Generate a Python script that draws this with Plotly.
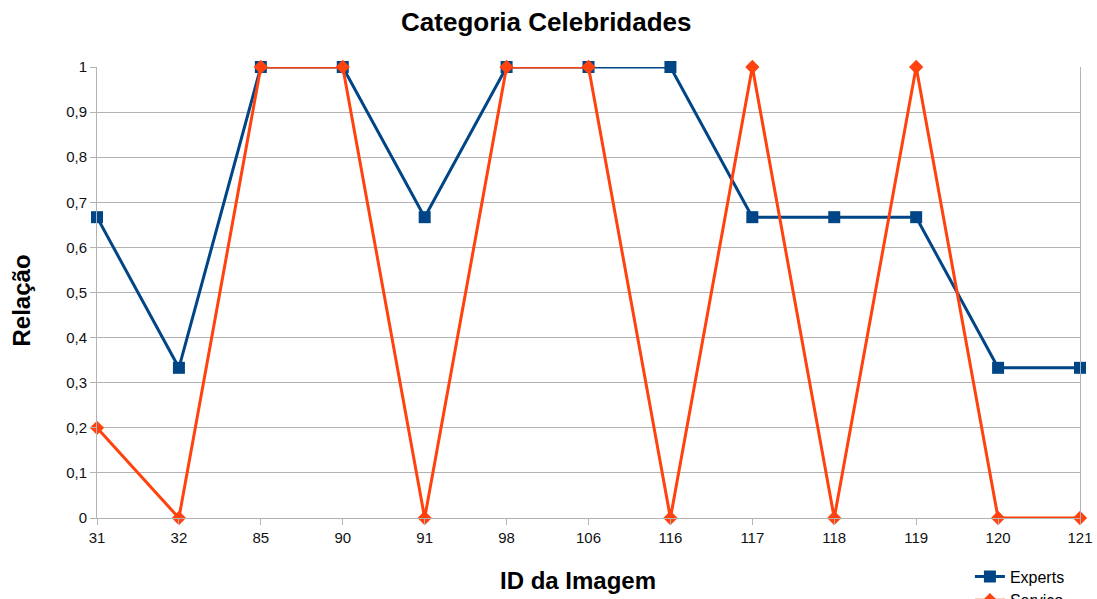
import plotly.graph_objects as go

# Image IDs along the x axis
image_ids = ["31", "32", "85", "90", "91", "98", "106", "116", "117", "118", "119", "120", "121"]

# Ratio per image for each source
experts = [0.667, 0.333, 1, 1, 0.667, 1, 1, 1, 0.667, 0.667, 0.667, 0.333, 0.333]
servico = [0.2, 0, 1, 1, 0, 1, 1, 0, 1, 0, 1, 0, 0]

positions = list(range(len(image_ids)))

FONT = "Liberation Sans, Arial, sans-serif"
GRID = "#b3b3b3"

fig = go.Figure()
fig.add_trace(go.Scatter(
    x=positions, y=experts, name="Experts", mode="lines+markers",
    line=dict(color="#004586", width=3),
    marker=dict(symbol="square", size=12, color="#004586"),
    cliponaxis=False,
))
fig.add_trace(go.Scatter(
    x=positions, y=servico, name="Serviço", mode="lines+markers",
    line=dict(color="#ff420e", width=3),
    marker=dict(symbol="diamond", size=11, color="#ff420e"),
    cliponaxis=False,
))

fig.update_layout(
    width=1097, height=599,
    margin=dict(l=97, r=17, t=67, b=81, autoexpand=False),
    paper_bgcolor="white", plot_bgcolor="white",
    separators=", ",
    font=dict(family=FONT, color="#333333", size=15),
    title=dict(text="<b>Categoria Celebridades</b>", x=0.498, xanchor="center",
               y=0.963, yanchor="middle",
               font=dict(family=FONT, size=26, color="#000000")),
    showlegend=True,
    legend=dict(x=0.888, y=-0.092, xanchor="left", yanchor="top",
                font=dict(family=FONT, size=16, color="#000000"),
                bgcolor="rgba(0,0,0,0)", tracegroupgap=0, itemwidth=30),
    xaxis=dict(
        range=[0, len(image_ids) - 1],
        tickmode="array", tickvals=positions, ticktext=image_ids,
        showgrid=False, zeroline=False,
        showline=True, linecolor=GRID, linewidth=1, mirror=False,
        ticks="outside", ticklen=6, tickcolor=GRID,
        tickfont=dict(family=FONT, size=15, color="#111111"),
    ),
    yaxis=dict(
        range=[0, 1], tickvals=[i / 10 for i in range(11)],
        showgrid=True, gridcolor=GRID, gridwidth=1, zeroline=False,
        showline=True, linecolor=GRID, linewidth=1, mirror=True,
        ticks="outside", ticklen=6, tickcolor=GRID,
        tickfont=dict(family=FONT, size=15, color="#111111"),
    ),
    annotations=[
        dict(text="<b>ID da Imagem</b>", xref="paper", yref="paper",
             x=0.489, y=-0.138, xanchor="center", yanchor="middle",
             showarrow=False, font=dict(family=FONT, size=24, color="#000000")),
        dict(text="<b>Relação</b>", xref="paper", yref="paper",
             x=-0.077, y=0.483, xanchor="center", yanchor="middle",
             textangle=-90, showarrow=False,
             font=dict(family=FONT, size=24, color="#000000")),
    ],
)

fig.write_html("out.html")
